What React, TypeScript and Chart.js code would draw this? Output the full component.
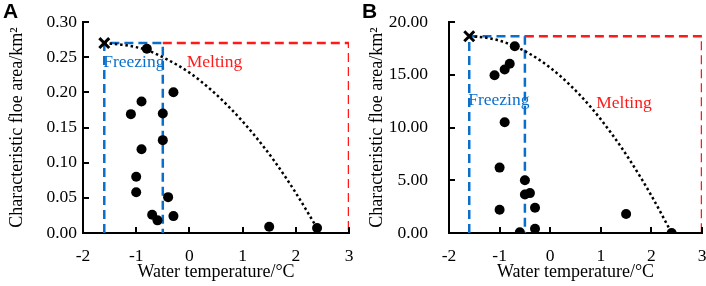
import React, { useEffect, useRef } from "react";
import { Chart, registerables } from "chart.js";
Chart.register(...registerables);

const SERIF = "'Liberation Serif', 'Times New Roman', serif";
const BLUE = "#0A6FCB";
const RED = "#FF1A1A";

// ---------- Panel A data ----------
const obsTempA = [-0.8, -0.3, -0.9, -1.1, -0.5, -0.5, -0.9, -1.0, -1.0, -0.4, -0.7, -0.6, -0.3, 1.5, 2.4];
const obsAreaA = [0.262, 0.2, 0.187, 0.169, 0.17, 0.132, 0.119, 0.08, 0.058, 0.051, 0.026, 0.018, 0.024, 0.009, 0.007];
const initTempA = [-1.6];
const initAreaA = [0.27];
const fitTempA = [-1.6, -1.2, -0.8, -0.4, 0, 0.4, 0.8, 1.2, 1.6, 2.0, 2.4];
const fitAreaA = [0.27, 0.267, 0.26, 0.246, 0.228, 0.204, 0.175, 0.141, 0.102, 0.057, 0.007];
const freezeTempA = [-1.6, -1.6, -0.5, -0.5];
const freezeAreaA = [0, 0.27, 0.27, 0];
const meltTempA = [-0.5, 3, 3];
const meltAreaA = [0.27, 0.27, 0];

// ---------- Panel B data ----------
const obsTempB = [-0.7, -0.8, -0.9, -1.1, -0.9, -1.0, -0.5, -0.5, -0.4, -1.0, -0.3, -0.3, -0.6, 1.5, 2.4];
const obsAreaB = [17.7, 16.05, 15.5, 14.95, 10.5, 6.2, 5.0, 3.65, 3.78, 2.2, 2.4, 0.41, 0.06, 1.8, 0];
const initTempB = [-1.6];
const initAreaB = [18.65];
const fitTempB = [-1.6, -1.2, -0.8, -0.4, 0, 0.4, 0.8, 1.2, 1.6, 2.0, 2.4];
const fitAreaB = [18.65, 18.46, 17.9, 16.97, 15.67, 13.99, 11.94, 9.51, 6.71, 3.54, 0];
const freezeTempB = [-1.6, -1.6, -0.5, -0.5];
const freezeAreaB = [0, 18.65, 18.65, 0];
const meltTempB = [-0.5, 3, 3];
const meltAreaB = [18.65, 18.65, 0];

const xTitle = "Water temperature/°C";
const yTitle = "Characteristic floe area/km²";
const freezeLabel = "Freezing";
const meltLabel = "Melting";

const pts = (xs: number[], ys: number[]) => xs.map((x, i) => ({ x, y: ys[i] }));

const innerTicksAndText = {
  id: "innerTicksAndText",
  afterDraw(chart: any, _args: any, opts: any) {
    const ctx = chart.ctx;
    const xs = chart.scales.x;
    const ys = chart.scales.y;
    const area = chart.chartArea;
    ctx.save();
    ctx.strokeStyle = "#000";
    ctx.lineWidth = 2;
    ctx.beginPath();
    ys.ticks.forEach((t: any) => {
      const py = Math.round(ys.getPixelForValue(t.value));
      ctx.moveTo(area.left, py);
      ctx.lineTo(area.left + 6, py);
    });
    xs.ticks.forEach((t: any) => {
      const px = Math.round(xs.getPixelForValue(t.value));
      ctx.moveTo(px, area.bottom);
      ctx.lineTo(px, area.bottom - 6);
    });
    ctx.stroke();
    (opts.items || []).forEach((it: any) => {
      ctx.font = `17.5px ${SERIF}`;
      ctx.fillStyle = it.color;
      ctx.textAlign = "left";
      ctx.textBaseline = "middle";
      ctx.fillText(it.text, xs.getPixelForValue(it.x), ys.getPixelForValue(it.y));
    });
    ctx.restore();
  },
};

type PanelProps = {
  obs: { x: number; y: number }[];
  init: { x: number; y: number }[];
  fit: { x: number; y: number }[];
  freeze: { x: number; y: number }[];
  melt: { x: number; y: number }[];
  yMax: number;
  yStep: number;
  yAxisWidth: number;
  yTickPad: number;
  yTitlePad: number;
  labels: { text: string; x: number; y: number; color: string }[];
};

function Panel(p: PanelProps) {
  const ref = useRef<HTMLCanvasElement>(null);
  useEffect(() => {
    const chart = new Chart(ref.current as HTMLCanvasElement, {
      type: "scatter",
      data: {
        datasets: [
          {
            data: p.obs,
            pointRadius: 5,
            pointBackgroundColor: "#000",
            pointBorderColor: "#000",
            borderWidth: 0,
            showLine: false,
          },
          {
            data: p.init,
            pointStyle: "crossRot",
            pointRadius: 7,
            pointBorderWidth: 3,
            pointBorderColor: "#000",
            showLine: false,
          },
          {
            data: p.fit,
            showLine: true,
            pointRadius: 0,
            borderColor: "#000",
            borderWidth: 2.5,
            borderDash: [2.5, 2.8],
            cubicInterpolationMode: "monotone",
          },
          {
            data: p.freeze,
            showLine: true,
            pointRadius: 0,
            borderColor: BLUE,
            borderWidth: 2.5,
            borderDash: [9, 5],
          },
          {
            data: p.melt,
            showLine: true,
            pointRadius: 0,
            borderColor: RED,
            borderWidth: 2.5,
            borderDash: [9, 5],
          },
        ] as any,
      },
      options: {
        animation: false,
        responsive: false,
        layout: { autoPadding: false, padding: { top: 22, right: 4, left: 0, bottom: 0 } },
        plugins: {
          legend: { display: false },
          tooltip: { enabled: false },
          innerTicksAndText: { items: p.labels },
        } as any,
        scales: {
          x: {
            type: "linear",
            min: -2,
            max: 3,
            grid: { display: false, drawTicks: false },
            border: { display: true, color: "#000", width: 2 },
            ticks: {
              stepSize: 1,
              color: "#000",
              font: { family: SERIF, size: 17.5 },
              padding: 13,
            },
            title: {
              display: true,
              text: xTitle,
              color: "#000",
              font: { family: SERIF, size: 18 },
              padding: { top: 0, bottom: 3 },
            },
            afterFit: (s: any) => {
              s.height = 53;
              s.paddingLeft = 0;
              s.paddingRight = 0;
            },
          },
          y: {
            type: "linear",
            min: 0,
            max: p.yMax,
            grid: { display: false, drawTicks: false },
            border: { display: true, color: "#000", width: 2 },
            ticks: {
              stepSize: p.yStep,
              color: "#000",
              font: { family: SERIF, size: 17.5 },
              padding: p.yTickPad,
              callback: (v: any) => Number(v).toFixed(2),
            },
            title: {
              display: true,
              text: yTitle,
              color: "#000",
              font: { family: SERIF, size: 18 },
              padding: { top: p.yTitlePad, bottom: 0 },
            },
            afterFit: (s: any) => {
              s.width = p.yAxisWidth;
              s.paddingTop = 0;
              s.paddingBottom = 0;
            },
          },
        },
      } as any,
      plugins: [innerTicksAndText as any],
    });
    return () => chart.destroy();
  }, []);
  return <canvas ref={ref} width={353} height={286} style={{ display: "block" }} />;
}

const letterStyle: React.CSSProperties = {
  position: "absolute",
  top: -1,
  fontFamily: "'Liberation Sans', Arial, sans-serif",
  fontWeight: "bold",
  fontSize: 21,
  color: "#000",
};

export default function App() {
  return (
    <div style={{ position: "fixed", left: 0, top: 0, width: 706, height: 286, background: "#fff" }}>
      <div style={{ position: "absolute", left: 0, top: 0 }}>
        <Panel
          obs={pts(obsTempA, obsAreaA)}
          init={pts(initTempA, initAreaA)}
          fit={pts(fitTempA, fitAreaA)}
          freeze={pts(freezeTempA, freezeAreaA)}
          melt={pts(meltTempA, meltAreaA)}
          yMax={0.3}
          yStep={0.05}
          yAxisWidth={83}
          yTickPad={6}
          yTitlePad={6}
          labels={[
            { text: freezeLabel, x: -1.62, y: 0.243, color: BLUE },
            { text: meltLabel, x: -0.05, y: 0.243, color: RED },
          ]}
        />
      </div>
      <div style={{ position: "absolute", left: 353, top: 0 }}>
        <Panel
          obs={pts(obsTempB, obsAreaB)}
          init={pts(initTempB, initAreaB)}
          fit={pts(fitTempB, fitAreaB)}
          freeze={pts(freezeTempB, freezeAreaB)}
          melt={pts(meltTempB, meltAreaB)}
          yMax={20}
          yStep={5}
          yAxisWidth={96}
          yTickPad={21}
          yTitlePad={13}
          labels={[
            { text: freezeLabel, x: -1.62, y: 12.6, color: BLUE },
            { text: meltLabel, x: 0.91, y: 12.3, color: RED },
          ]}
        />
      </div>
      <div style={{ ...letterStyle, left: 3 }}>A</div>
      <div style={{ ...letterStyle, left: 362 }}>B</div>
    </div>
  );
}
